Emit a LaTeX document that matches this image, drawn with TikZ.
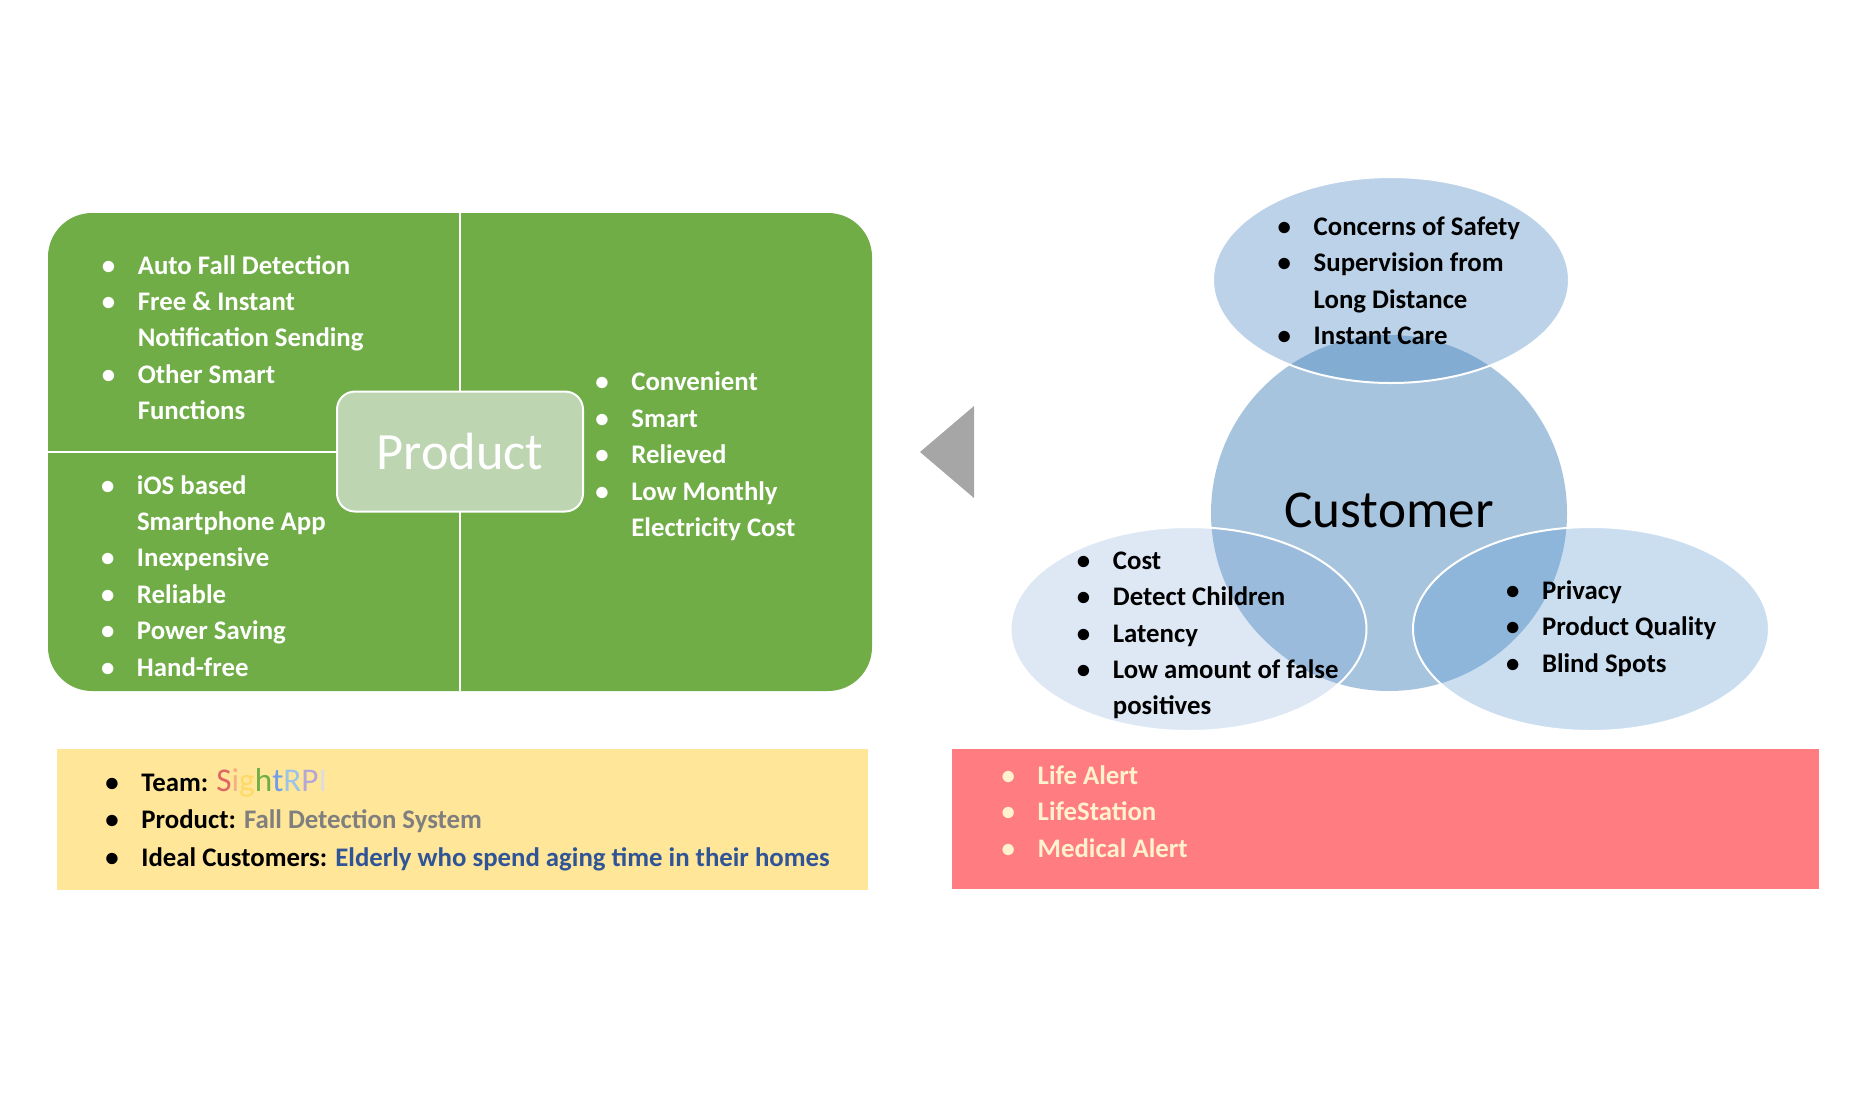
\documentclass[tikz,border=0pt]{standalone}
\usepackage{fontspec}
\setmainfont{Carlito}
\definecolor{panelgreen}{HTML}{70AD47}
\definecolor{prodfill}{HTML}{BDD5B1}
\definecolor{custblue}{HTML}{A7C4DF}
\definecolor{topblue}{RGB}{68,131,192}
\definecolor{leftblue}{RGB}{117,159,213}
\definecolor{rightblue}{RGB}{91,151,208}
\definecolor{arrowgray}{HTML}{A6A6A6}
\definecolor{teamyellow}{HTML}{FFE699}
\definecolor{rivalred}{HTML}{FF7C80}
\definecolor{cream}{HTML}{FFF2CC}
\definecolor{sysgray}{HTML}{7F7F7F}
\definecolor{elderblue}{HTML}{2F5597}
\definecolor{cS}{HTML}{E06666}
\definecolor{ci}{HTML}{F4B183}
\definecolor{cg}{HTML}{FFD966}
\definecolor{ch}{HTML}{70AD47}
\definecolor{ct}{HTML}{6D9EEB}
\definecolor{cR}{HTML}{9DC3E6}
\definecolor{cP}{HTML}{B4A7D6}
\definecolor{cI}{HTML}{DDDDDD}
\newcommand\itm{\strut\makebox[18pt][l]{\textbullet}}
\newcommand\cnt{\strut\hspace*{18pt}}
\tikzset{
  lst/.style={anchor=north west, align=left, inner sep=0pt,
    font=\fontsize{13.4pt}{18.2pt}\selectfont\bfseries},
  bubble/.style={draw=white, line width=1pt},
}
\begin{document}
\begin{tikzpicture}[x=0.5pt,y=-0.5pt]
        \useasboundingbox (0,0) rectangle (1874,1109);
        % product panel
        \fill [color=panelgreen, rounded corners=22pt] (48,213) rectangle (872,691);
        \draw [white, line width=1pt] (460,213) -- (460,691);
        \draw [white, line width=1pt] (48,452) -- (460,452);
        \node (product) [draw=white, line width=1pt, fill=prodfill, rounded corners=9pt,
            minimum width=123pt, minimum height=60pt, text=white,
            font=\fontsize{26.2pt}{30pt}\selectfont] at (460,451.5) {Product};
        \node (features) [lst, text=white] at (101.4,248.3)
            {\itm Auto Fall Detection\\ \itm Free \& Instant\\ \cnt Notification Sending\\
             \itm Other Smart\\ \cnt Functions};
        \node (qualities) [lst, text=white] at (100.6,468.2)
            {\itm iOS based\\ \cnt Smartphone App\\ \itm Inexpensive\\ \itm Reliable\\
             \itm Power Saving\\ \itm Hand-free};
        \node (feelings) [lst, text=white] at (595,365)
            {\itm Convenient\\ \itm Smart\\ \itm Relieved\\ \itm Low Monthly\\ \cnt Electricity Cost};
        % arrow
        \fill [color=arrowgray] (920,452) -- (974,406) -- (974,498) -- cycle;
        % customer venn
        \fill [color=custblue] (1389,513) circle [radius=178];
        \draw [bubble, fill=topblue, fill opacity=0.36] (1391,280) ellipse [x radius=178, y radius=103];
        \draw [bubble, fill=leftblue, fill opacity=0.24] (1188.5,629) ellipse [x radius=178, y radius=102];
        \draw [bubble, fill=rightblue, fill opacity=0.32] (1591,629) ellipse [x radius=178, y radius=102];
        \node (customer) [font=\fontsize{26.6pt}{30pt}\selectfont] at (1389,510) {Customer};
        \node (needs) [lst] at (1277.3,209.5)
            {\itm Concerns of Safety\\ \itm Supervision from\\ \cnt Long Distance\\ \itm Instant Care};
        \node (worries) [lst] at (1076.5,543.5)
            {\itm Cost\\ \itm Detect Children\\ \itm Latency\\ \itm Low amount of false\\ \cnt positives};
        \node (concerns) [lst] at (1505.6,573.4)
            {\itm Privacy\\ \itm Product Quality\\ \itm Blind Spots};
        % team box
        \fill [color=teamyellow] (57,749) rectangle (868,890);
        \node (team) [lst, font=\fontsize{13.4pt}{18.8pt}\selectfont\bfseries] at (105,764.6)
            {\itm Team: {\fontsize{16.6pt}{18.8pt}\selectfont\mdseries\color{cS}S\color{ci}i\color{cg}g\color{ch}h\color{ct}t\color{cR}R\color{cP}P\color{cI}I}\\
             \itm Product: \textcolor{sysgray}{Fall Detection System}\\
             \itm Ideal Customers: \textcolor{elderblue}{Elderly who spend aging time in their homes}};
        % competitors box
        \fill [color=rivalred] (952,749) rectangle (1819,889);
        \node (rivals) [lst, text=cream] at (1001.3,758.6)
            {\itm Life Alert\\ \itm LifeStation\\ \itm Medical Alert};
\end{tikzpicture}
\end{document}
